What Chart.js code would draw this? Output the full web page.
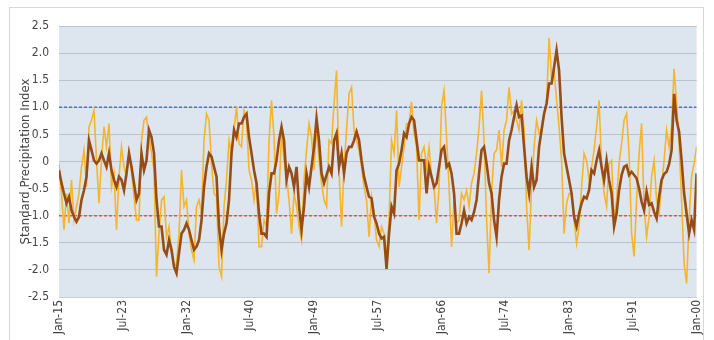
<!DOCTYPE html>
<html>
<head>
<meta charset="utf-8">
<title>Standard Precipitation Index</title>
<script src="https://cdn.jsdelivr.net/npm/chart.js@4.4.1/dist/chart.umd.min.js"></script>
<style>
  html, body { margin: 0; padding: 0; background: #ffffff; }
  #wrap { width: 714px; height: 340px; position: relative; }
</style>
</head>
<body>
<div id="wrap"><canvas id="spi" width="714" height="340"></canvas></div>
<script>
// Monthly index axis: month 0 = Jan 1915, month 1020 = Jan 2000
const sampleStepMonths = 4;
const tickStepMonths = 102;
const xTickLabels = ['Jan-15', 'Jul-23', 'Jan-32', 'Jul-40', 'Jan-49', 'Jul-57',
                     'Jan-66', 'Jul-74', 'Jan-83', 'Jul-91', 'Jan-00'];

// Short-window index (yellow), one value every 4 months
const spiShort = [
  -0.04,-0.59,-1.26,-0.59,-1.14,-0.34,-1.08,-0.83,-0.59,-0.10,0.21,-0.47,0.64,0.76,0.94,0.02,
  -0.77,0.02,0.64,0.27,0.70,-0.47,-0.22,-1.26,-0.28,0.27,-0.10,-0.28,0.15,-0.16,-0.65,-1.08,
  -1.08,0.39,0.76,0.82,0.45,0.15,-0.16,-2.12,-1.33,-0.71,-0.65,-1.39,-1.20,-1.69,-1.94,-1.88,
  -1.33,-0.16,-0.83,-0.71,-1.33,-1.63,-1.82,-0.83,-0.71,-0.96,0.39,0.88,0.76,-0.04,-0.59,-0.65,
  -1.94,-2.12,-0.83,-0.34,0.39,0.15,0.58,1.01,0.33,0.27,0.94,0.76,-0.16,-0.34,-0.71,-0.34,
  -1.57,-1.57,-1.08,-1.20,0.39,1.13,0.45,-0.96,-0.59,0.52,0.02,-0.28,-0.71,-1.33,-0.59,-0.83,
  -1.20,-1.45,-0.34,0.21,0.70,0.45,-0.16,0.64,0.02,-0.40,-0.71,-0.83,0.39,0.33,1.07,1.68,
  -0.16,-1.20,-0.10,0.58,1.25,1.37,0.58,0.39,0.21,-0.10,-0.47,-0.71,-1.39,-0.65,-0.96,-1.45,
  -1.57,-1.20,-1.33,-1.75,-1.08,0.39,0.15,0.94,-0.47,-0.10,0.27,0.70,0.70,1.10,0.52,0.27,
  -1.08,0.15,0.27,-0.10,0.27,-0.28,-0.47,-1.14,-0.47,1.01,1.31,0.45,-0.47,-1.57,-0.71,-1.14,
  -1.08,-0.59,-0.71,-0.53,-0.83,-0.40,-0.22,0.15,0.64,1.31,0.39,-1.08,-2.06,-0.59,0.15,0.21,
  0.58,-0.10,0.58,0.76,1.37,0.88,0.94,0.76,0.58,1.13,0.58,-0.83,-1.63,-0.47,0.27,0.76,
  0.52,0.52,0.88,1.07,2.28,1.56,1.68,1.13,0.64,0.02,-1.33,-0.77,-0.59,-0.59,-1.08,-1.51,
  -1.20,-0.47,0.15,0.02,-0.34,-0.10,0.21,0.64,1.13,-0.10,-0.59,-0.83,-0.04,0.02,-1.08,-0.71,
  -0.04,0.33,0.76,0.88,0.15,-1.33,-1.75,-0.71,0.15,0.70,-0.83,-1.39,-1.02,-0.28,0.02,-0.71,
  -0.96,-0.47,0.02,0.58,0.27,0.64,1.71,1.07,0.33,-0.71,-1.88,-2.25,-1.08,-0.28,-0.04,0.27
];

// Long-window index (brown), one value every 4 months
const spiLong = [
  -0.16,-0.40,-0.59,-0.77,-0.65,-0.90,-1.02,-1.11,-1.02,-0.71,-0.53,-0.28,0.39,0.21,0.02,-0.04,
  0.02,0.15,0.02,-0.10,0.15,-0.16,-0.34,-0.47,-0.28,-0.34,-0.53,-0.22,0.15,-0.10,-0.40,-0.71,
  -0.59,0.15,-0.16,0.02,0.58,0.45,0.15,-0.71,-1.20,-1.20,-1.63,-1.72,-1.45,-1.63,-1.94,-2.06,
  -1.69,-1.33,-1.26,-1.14,-1.26,-1.45,-1.63,-1.57,-1.45,-1.08,-0.47,-0.10,0.15,0.09,-0.10,-0.28,
  -1.20,-1.63,-1.33,-1.14,-0.71,0.15,0.58,0.45,0.70,0.70,0.82,0.88,0.45,0.15,-0.16,-0.40,
  -0.96,-1.33,-1.33,-1.39,-0.59,-0.22,-0.22,0.02,0.39,0.64,0.39,-0.34,-0.10,-0.22,-0.47,-0.10,
  -0.83,-1.26,-0.83,-0.22,-0.47,-0.10,0.27,0.79,0.39,-0.22,-0.40,-0.25,-0.10,-0.22,0.39,0.52,
  -0.10,0.15,-0.22,0.15,0.27,0.27,0.39,0.55,0.39,0.02,-0.28,-0.47,-0.65,-0.68,-1.02,-1.14,
  -1.33,-1.42,-1.39,-1.98,-1.33,-0.83,-0.96,-0.16,-0.04,0.21,0.52,0.45,0.70,0.82,0.76,0.39,
  0.02,0.02,0.02,-0.59,-0.10,-0.28,-0.47,-0.40,-0.10,0.21,0.27,-0.10,-0.04,-0.22,-0.59,-1.33,
  -1.33,-1.14,-0.90,-1.14,-1.02,-1.08,-0.93,-0.71,-0.22,0.21,0.27,-0.04,-0.40,-0.59,-1.08,-1.39,
  -0.71,-0.28,-0.04,-0.04,0.39,0.58,0.82,1.04,0.82,0.85,0.27,-0.28,-0.59,-0.10,-0.47,-0.34,
  0.27,0.58,0.88,1.07,1.44,1.44,1.74,2.05,1.68,0.82,0.15,-0.10,-0.34,-0.59,-1.02,-1.20,
  -0.96,-0.77,-0.65,-0.68,-0.53,-0.16,-0.22,0.02,0.21,-0.10,-0.34,0.02,-0.34,-0.59,-1.20,-0.96,
  -0.53,-0.25,-0.10,-0.07,-0.25,-0.19,-0.25,-0.31,-0.50,-0.74,-0.90,-0.56,-0.80,-0.77,-0.93,-1.05,
  -0.65,-0.34,-0.23,-0.19,-0.05,0.21,1.25,0.76,0.55,0.02,-0.59,-0.96,-1.33,-1.08,-1.26,-0.22
];

// Wet / dry threshold levels
const wetThreshold = 1.0;
const dryThreshold = -1.0;

const FONT = '"Liberation Sans Narrow", "DejaVu Sans Condensed", "Roboto Condensed", sans-serif';
const lastMonth = tickStepMonths * (xTickLabels.length - 1);

function toPoints(values) {
  return values.map((v, i) => ({ x: i * sampleStepMonths, y: v }));
}
function levelLine(level) {
  return [{ x: 0, y: level }, { x: lastMonth, y: level }];
}

// Plot background and outer frame
const framePlugin = {
  id: 'frame',
  beforeDraw(chart) {
    const { ctx, chartArea: a } = chart;
    ctx.save();
    ctx.fillStyle = '#dde5ee';
    ctx.fillRect(a.left, a.top, a.right - a.left, a.bottom - a.top);
    ctx.restore();
  },
  afterDraw(chart) {
    const ctx = chart.ctx;
    ctx.save();
    ctx.strokeStyle = '#d3d9d3';
    ctx.lineWidth = 1;
    ctx.strokeRect(9.5, 7.5, 694, 340);
    ctx.restore();
  }
};

new Chart(document.getElementById('spi'), {
  type: 'line',
  data: {
    datasets: [
      { label: 'Wet', data: levelLine(wetThreshold), borderColor: '#4d72c4', borderWidth: 1.6,
        borderDash: [3, 2], pointRadius: 0, order: 3 },
      { label: 'Dry', data: levelLine(dryThreshold), borderColor: '#ea5430', borderWidth: 1.6,
        borderDash: [3, 2], pointRadius: 0, order: 3 },
      { label: 'Long', data: toPoints(spiLong), borderColor: '#974b15', borderWidth: 2.6,
        pointRadius: 0, tension: 0, order: 1 },
      { label: 'Short', data: toPoints(spiShort), borderColor: '#f6b52a', borderWidth: 1.6,
        pointRadius: 0, tension: 0, order: 2 }
    ]
  },
  options: {
    responsive: false,
    animation: false,
    layout: { padding: { left: 0, right: 17, top: 26, bottom: 0 } },
    plugins: { legend: { display: false }, tooltip: { enabled: false } },
    scales: {
      x: {
        type: 'linear',
        min: 0,
        max: lastMonth,
        afterFit(scale) { scale.height = 43; },
        afterBuildTicks(scale) {
          scale.ticks = xTickLabels.map((_, i) => ({ value: i * tickStepMonths }));
        },
        grid: { display: false, drawTicks: false },
        border: { display: true, color: '#c9ced6' },
        ticks: {
          minRotation: 90,
          maxRotation: 90,
          padding: 3,
          color: '#444444',
          font: { family: FONT, size: 12 },
          callback: (v) => xTickLabels[Math.round(v / tickStepMonths)]
        }
      },
      y: {
        min: -2.5,
        max: 2.5,
        afterFit(scale) { scale.width = 59; },
        grid: { color: '#bcc2cb', lineWidth: 1, drawTicks: false },
        border: { display: false },
        ticks: {
          stepSize: 0.5,
          padding: 10,
          color: '#444444',
          font: { family: FONT, size: 12 },
          callback: (v) => (v === 0 ? '0' : v.toFixed(1))
        },
        title: {
          display: true,
          text: 'Standard Precipitation Index',
          color: '#444444',
          font: { family: FONT, size: 13 },
          padding: { top: 18, bottom: 0 }
        }
      }
    }
  },
  plugins: [framePlugin]
});
</script>
</body>
</html>
